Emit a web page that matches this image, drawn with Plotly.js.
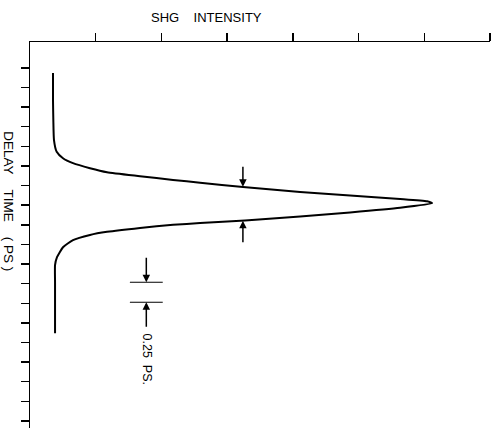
<!DOCTYPE html>
<html>
<head>
<meta charset="utf-8">
<script src="https://cdn.plot.ly/plotly-3.0.1.min.js"></script>
<style>html,body{margin:0;padding:0;background:#fff;}#chart{width:497px;height:428px;}</style>
</head>
<body>
<div id="chart"></div>
<script>
// SHG intensity (arb. units, axis 0..7) and delay time (ps)
const intensity = [0.350,0.350,0.355,0.365,0.406,0.502,0.654,0.913,1.172,1.674,2.177,2.588,3.242,4.110,4.871,5.632,6.043,6.119,
                   5.632,4.871,4.110,3.272,2.588,2.177,1.674,1.172,0.913,0.654,0.502,0.411,0.381,0.381,0.381,0.381];
const delay     = [1.684,1.339,1.084,0.829,0.680,0.599,0.536,0.472,0.421,0.370,0.322,0.286,0.232,0.168,0.122,0.080,0.050,0.026,
                   -0.032,-0.092,-0.145,-0.195,-0.228,-0.250,-0.290,-0.340,-0.380,-0.446,-0.536,-0.663,-0.765,-0.982,-1.339,-1.633];
const intensityTicks = [1,2,3,4,5,6,7];
const delayTicks = [1.75,1.5,1.25,1.0,0.75,0.5,0.25,0,-0.25,-0.5,-0.75,-1.0,-1.25,-1.5,-1.75,-2.0,-2.25,-2.5,-2.75];
// FWHM markers (at half maximum)
const fwhmX = 3.24;
const fwhmUpper = [0.51, 0.235];   // tail, head
const fwhmLower = [-0.49, -0.198];
// 0.25 ps scale bar
const barX = 1.77;
const barX0 = 1.52, barX1 = 2.02;
const barTop = -0.982, barBottom = -1.237;
const barArrowTop = -0.65, barArrowBottom = -1.57;
const barLabel = "0.25&nbsp;&nbsp;PS.";

const trace = {
  x: intensity, y: delay, mode: 'lines', type: 'scatter',
  line: {color: '#000', width: 2, shape: 'spline', smoothing: 0.5},
  hoverinfo: 'skip'
};

const fnt = {family: 'Liberation Sans, Arial, sans-serif', size: 12.5, color: '#000'};

const layout = {
  width: 497, height: 428,
  margin: {l: 30, r: 7, t: 42, b: 0, pad: 0},
  paper_bgcolor: '#fff', plot_bgcolor: '#fff',
  showlegend: false,
  xaxis: {
    range: [0, 7], side: 'top', showline: true, linecolor: '#000', linewidth: 1.5,
    ticks: 'outside', ticklen: 8, tickwidth: 1.5, tickcolor: '#000',
    tickvals: intensityTicks, showticklabels: false, showgrid: false, zeroline: false
  },
  yaxis: {
    range: [-2.84, 2.08], showline: true, linecolor: '#000', linewidth: 1.5,
    ticks: 'outside', ticklen: 8, tickwidth: 1.5, tickcolor: '#000',
    tickvals: delayTicks, showticklabels: false, showgrid: false, zeroline: false
  },
  shapes: [
    {type: 'line', xref: 'x', yref: 'y', x0: barX0, x1: barX1, y0: barTop, y1: barTop, line: {color: '#000', width: 1.2}},
    {type: 'line', xref: 'x', yref: 'y', x0: barX0, x1: barX1, y0: barBottom, y1: barBottom, line: {color: '#000', width: 1.2}}
  ],
  annotations: [
    {xref: 'paper', yref: 'paper', x: 0.383, y: 1, yshift: 25, text: 'SHG&nbsp;&nbsp;&nbsp;&nbsp;INTENSITY', showarrow: false,
     font: {family: fnt.family, size: 13, color: '#000'}, xanchor: 'center', yanchor: 'middle'},
    {xref: 'paper', yref: 'y', x: 0, xshift: -21, y: 0.05, text: 'DELAY&nbsp;&nbsp;&nbsp;&nbsp;TIME&nbsp;&nbsp;&nbsp;&nbsp;(&nbsp;PS&nbsp;)', textangle: 90,
     showarrow: false, font: {family: fnt.family, size: 13.5, color: '#000'}, xanchor: 'center', yanchor: 'middle'},
    {xref: 'x', yref: 'y', x: fwhmX, y: fwhmUpper[1], axref: 'x', ayref: 'y', ax: fwhmX, ay: fwhmUpper[0],
     showarrow: true, arrowhead: 2, arrowsize: 1, arrowwidth: 1.5, arrowcolor: '#000', text: ''},
    {xref: 'x', yref: 'y', x: fwhmX, y: fwhmLower[1], axref: 'x', ayref: 'y', ax: fwhmX, ay: fwhmLower[0],
     showarrow: true, arrowhead: 2, arrowsize: 1, arrowwidth: 1.5, arrowcolor: '#000', text: ''},
    {xref: 'x', yref: 'y', x: barX, y: barTop, axref: 'x', ayref: 'y', ax: barX, ay: barArrowTop,
     showarrow: true, arrowhead: 2, arrowsize: 1, arrowwidth: 1.5, arrowcolor: '#000', text: ''},
    {xref: 'x', yref: 'y', x: barX, y: barBottom, axref: 'x', ayref: 'y', ax: barX, ay: barArrowBottom,
     showarrow: true, arrowhead: 2, arrowsize: 1, arrowwidth: 1.5, arrowcolor: '#000', text: ''},
    {xref: 'x', yref: 'y', x: barX, y: barArrowBottom, text: barLabel, textangle: 90, showarrow: false,
     font: fnt, xanchor: 'center', yanchor: 'top', yshift: -3, xshift: 1}
  ]
};

Plotly.newPlot('chart', [trace], layout, {staticPlot: true, displayModeBar: false});
</script>
</body>
</html>
